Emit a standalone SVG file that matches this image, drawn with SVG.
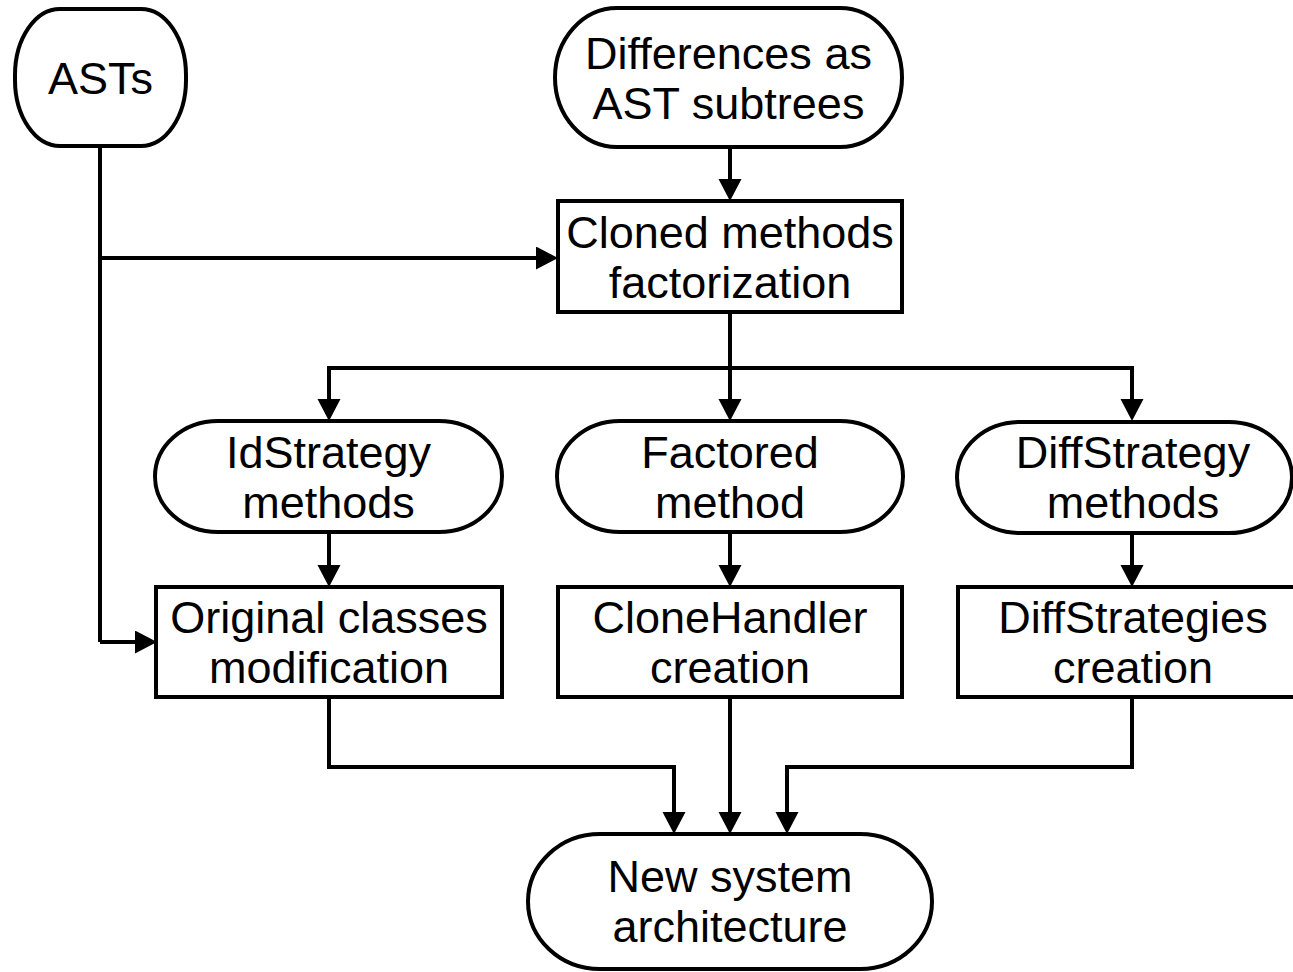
<svg xmlns="http://www.w3.org/2000/svg" width="1293" height="972" viewBox="0 0 1293 972">
  <style>
    .shape { fill: #ffffff; stroke: #000000; stroke-width: 4; }
    .label { font-family: "Liberation Sans", Arial, sans-serif; font-size: 45px; fill: #000000; text-anchor: middle; }
    .wire { fill: none; stroke: #000000; stroke-width: 4; stroke-linejoin: miter; }
    .arrow { marker-end: url(#head); }
  </style>
  <defs>
    <marker id="head" markerUnits="userSpaceOnUse" markerWidth="24" markerHeight="24" refX="14" refY="11.5" orient="auto">
      <path d="M0,0 L22,11.5 L0,23 Z" fill="#000000"/>
    </marker>
  </defs>
  <rect width="1293" height="972" fill="#ffffff"/>

  <!-- connectors -->
  <g id="connectors">
    <path class="wire arrow" d="M730,147 V193"/>
    <path class="wire" d="M100,146 V642"/>
    <path class="wire arrow" d="M100,258 H550"/>
    <path class="wire arrow" d="M100,642 H149"/>
    <path class="wire arrow" d="M730,312 V413"/>
    <path class="wire arrow" d="M730,368 H329 V413"/>
    <path class="wire arrow" d="M730,368 H1132 V413"/>
    <path class="wire arrow" d="M329,532 V579"/>
    <path class="wire arrow" d="M730,532 V579"/>
    <path class="wire arrow" d="M1132,533 V579"/>
    <path class="wire arrow" d="M329,697 V767 H674 V826"/>
    <path class="wire arrow" d="M730,697 V826"/>
    <path class="wire arrow" d="M1132,697 V767 H787 V826"/>
  </g>

  <!-- nodes -->
  <g id="asts">
    <rect class="shape" x="15" y="9" width="171" height="137" rx="45" ry="66"/>
    <text class="label" x="100.5" y="93.5">ASTs</text>
  </g>
  <g id="differences">
    <rect class="shape" x="555" y="8" width="347" height="139" rx="62" ry="69.5"/>
    <text class="label" x="728.5" y="68.5">Differences as</text>
    <text class="label" x="728.5" y="118.5">AST subtrees</text>
  </g>
  <g id="factorization">
    <rect class="shape" x="558" y="201" width="344" height="111"/>
    <text class="label" x="730" y="247.5">Cloned methods</text>
    <text class="label" x="730" y="297.5">factorization</text>
  </g>
  <g id="id-strategy">
    <rect class="shape" x="155" y="421" width="347" height="111" rx="63" ry="55.5"/>
    <text class="label" x="328.5" y="467.5">IdStrategy</text>
    <text class="label" x="328.5" y="517.5">methods</text>
  </g>
  <g id="factored-method">
    <rect class="shape" x="557" y="421" width="346" height="111" rx="63" ry="55.5"/>
    <text class="label" x="730" y="467.5">Factored</text>
    <text class="label" x="730" y="517.5">method</text>
  </g>
  <g id="diff-strategy">
    <rect class="shape" x="957" y="422" width="335" height="111" rx="63" ry="55.5"/>
    <text class="label" x="1133" y="467.5">DiffStrategy</text>
    <text class="label" x="1133" y="517.5">methods</text>
  </g>
  <g id="original-classes">
    <rect class="shape" x="156" y="587" width="346" height="110"/>
    <text class="label" x="329" y="633">Original classes</text>
    <text class="label" x="329" y="683">modification</text>
  </g>
  <g id="clone-handler">
    <rect class="shape" x="558" y="587" width="344" height="110"/>
    <text class="label" x="730" y="633">CloneHandler</text>
    <text class="label" x="730" y="683">creation</text>
  </g>
  <g id="diff-strategies">
    <rect class="shape" x="958" y="587" width="348" height="110"/>
    <text class="label" x="1133" y="633">DiffStrategies</text>
    <text class="label" x="1133" y="683">creation</text>
  </g>
  <g id="new-architecture">
    <rect class="shape" x="528" y="834" width="404" height="135" rx="72" ry="67.5"/>
    <text class="label" x="730" y="892">New system</text>
    <text class="label" x="730" y="942">architecture</text>
  </g>
</svg>
